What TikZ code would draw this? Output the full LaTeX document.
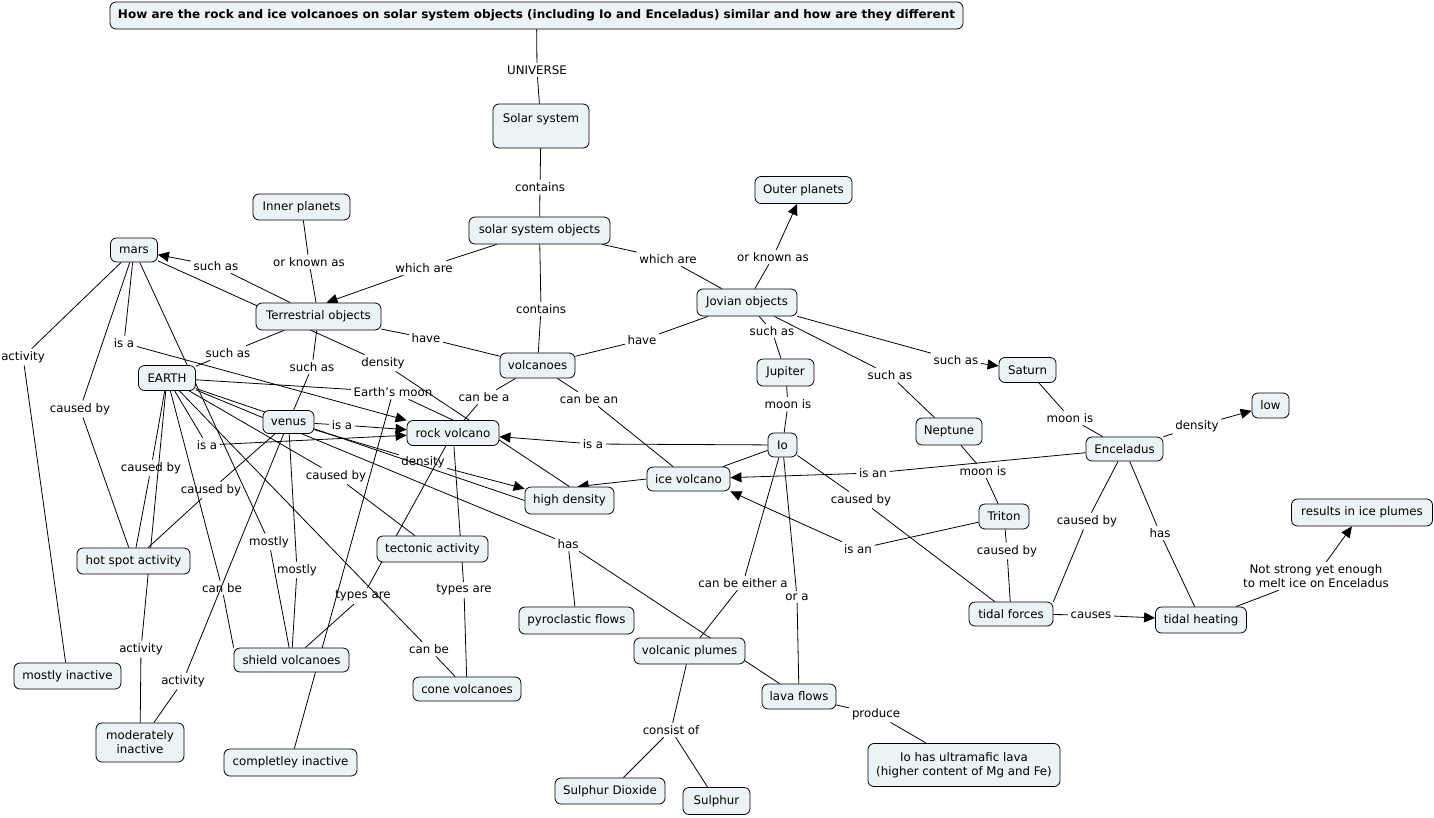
\documentclass[tikz,border=0pt]{standalone}
\usepackage{fontspec}
\usepackage{graphicx}
\setmainfont{DejaVu Sans}
\usetikzlibrary{arrows.meta,backgrounds}
\definecolor{cfill}{RGB}{236,243,246}
\newcommand\cfont{\fontsize{11.8pt}{14pt}\selectfont}
\begin{document}
\begin{tikzpicture}[x=1pt,y=-1pt,
  concept/.style={draw=black, line width=0.8pt, fill=cfill, rounded corners=6pt,
    inner sep=2pt, align=center, font=\cfont},
  sz/.style 2 args={minimum width=#1pt, minimum height=#2pt},
  lab/.style={inner sep=2.5pt, align=center, font=\cfont},
  lnk/.style={draw=black, line width=0.8pt},
  lnka/.style={lnk, -{Triangle[length=11pt,width=10pt]}}]
\useasboundingbox (0,0) rectangle (1434,817);
% ---------- concepts ----------
\node[concept, sz={853}{27}] (title) at (536.5,15.5) {\resizebox{837pt}{\height}{\bfseries How are the rock and ice volcanoes on solar system objects (including Io and Enceladus) similar and how are they different}};
\node[concept, minimum width=96pt, text height=16pt, text depth=24pt] (sol) at (541,126) {Solar system};
\node[concept, sz={141}{27}] (sso) at (539.5,230.5) {solar system objects};
\node[concept, sz={97}{27}] (outer) at (803.5,190) {Outer planets};
\node[concept, sz={97}{26}] (inner) at (301.5,207) {Inner planets};
\node[concept, sz={47}{24}] (mars) at (134,250) {mars};
\node[concept, sz={125}{27}] (terr) at (318.5,316.5) {Terrestrial objects};
\node[concept, sz={75}{25}] (volc) at (537.5,365.5) {volcanoes};
\node[concept, sz={100}{27}] (jov) at (747,302.5) {Jovian objects};
\node[concept, sz={57}{27}] (jup) at (785.5,372.5) {Jupiter};
\node[concept, sz={57}{25}] (sat) at (1027.5,370) {Saturn};
\node[concept, sz={37}{25}] (low) at (1270.5,405.5) {low};
\node[concept, sz={57}{25}] (earth) at (167,378) {EARTH};
\node[concept, sz={51}{23}] (venus) at (288.5,422) {venus};
\node[concept, sz={92}{25}] (rock) at (453,433) {rock volcano};
\node[concept, sz={29}{24}] (io) at (782.5,445) {Io};
\node[concept, sz={66}{27}] (nep) at (949,431.5) {Neptune};
\node[concept, sz={77}{24}] (encel) at (1124.5,449) {Enceladus};
\node[concept, sz={83}{24}] (icev) at (688.5,479) {ice volcano};
\node[concept, sz={89}{27}] (hd) at (569.5,500.5) {high density};
\node[concept, sz={50}{25}] (triton) at (1004,516.5) {Triton};
\node[concept, sz={141}{27}] (plumes) at (1362,512.5) {results in ice plumes};
\node[concept, sz={111}{26}] (tect) at (432.5,549) {tectonic activity};
\node[concept, sz={113}{26}] (hot) at (133.5,561) {hot spot activity};
\node[concept, sz={115}{27}] (pyro) at (576.5,620.5) {pyroclastic flows};
\node[concept, sz={84}{24}] (tforce) at (1011,614) {tidal forces};
\node[concept, sz={91}{26}] (theat) at (1201,620) {tidal heating};
\node[concept, sz={111}{26}] (vplumes) at (689.5,651) {volcanic plumes};
\node[concept, sz={74}{25}] (lava) at (799,696.5) {lava flows};
\node[concept, sz={110}{26}] (so2) at (610,791) {Sulphur Dioxide};
\node[concept, sz={67}{27}] (sulphur) at (716.5,801) {Sulphur};
\node[concept, sz={192}{43}] (ioultra) at (964,765) {Io has ultramafic lava\\(higher content of Mg and Fe)};
\node[concept, sz={107}{26}] (mostlyin) at (67.5,676) {mostly inactive};
\node[concept, sz={88}{39}] (modin) at (140,742.5) {moderately\\inactive};
\node[concept, sz={115}{24}] (shield) at (291.5,660) {shield volcanoes};
\node[concept, sz={108}{24}] (cone) at (467,689) {cone volcanoes};
\node[concept, sz={133}{27}] (complet) at (290.5,762.5) {completley inactive};
% ---------- linking phrases ----------
\node[lab] (lUniv) at (537,70) {UNIVERSE};
\node[lab] (lCont1) at (540,187) {contains};
\node[lab] (lWa1) at (424,268) {which are};
\node[lab] (lWa2) at (668,259) {which are};
\node[lab] (lOkaJ) at (773,257) {or known as};
\node[lab] (lCont2) at (541,309) {contains};
\node[lab] (lOkaT) at (309,262) {or known as};
\node[lab] (lSaMars) at (216,266) {such as};
\node[lab] (lSaEarth) at (228,353) {such as};
\node[lab] (lSaVenus) at (312,367) {such as};
\node[lab] (lHave1) at (426,338) {have};
\node[lab] (lHave2) at (642,340) {have};
\node[lab] (lSaJup) at (772,331) {such as};
\node[lab] (lSaNep) at (890,375) {such as};
\node[lab] (lSaSat) at (956,360) {such as};
\node[lab] (lMoonIo) at (788,404) {moon is};
\node[lab] (lMoonEnc) at (1070,418) {moon is};
\node[lab] (lMoonTri) at (983,471) {moon is};
\node[lab] (lDensLow) at (1197,426) {density};
\node[lab] (lIsanEnc) at (873,473) {is an};
\node[lab] (lIsanTri) at (858,549) {is an};
\node[lab] (lCbTri) at (1007,551) {caused by};
\node[lab] (lCbEnc) at (1087,521) {caused by};
\node[lab] (lHasEnc) at (1160,533) {has};
\node[lab] (lCauses) at (1091,615) {causes};
\node[lab] (lNot) at (1316,576) {Not strong yet enough\\to melt ice on Enceladus};
\node[lab] (lCbIo) at (861,500) {caused by};
\node[lab] (lIsaIo) at (593,444) {is a};
\node[lab] (lCbe) at (743,583) {can be either a};
\node[lab] (lOra) at (797,597) {or a};
\node[lab] (lHasE) at (568,544) {has};
\node[lab] (lCba) at (484,397) {can be a};
\node[lab] (lCban) at (589,399) {can be an};
\node[lab] (lIsaEarth) at (207,445) {is a};
\node[lab] (lIsaMars) at (124,343) {is a};
\node[lab] (lIsaVenus) at (342,425) {is a};
\node[lab] (lEmoon) at (393,392) {Earth's moon};
\node[lab] (lDensV) at (423,462) {density};
\node[lab] (lDensT) at (383,363) {density};
\node[lab] (lActMars) at (23,357) {activity};
\node[lab] (lCbMars) at (80,409) {caused by};
\node[lab] (lCbE1) at (151,468) {caused by};
\node[lab] (lCbV) at (211,490) {caused by};
\node[lab] (lCbE2) at (336,476) {caused by};
\node[lab] (lMostly1) at (269,542) {mostly};
\node[lab] (lMostly2) at (297,570) {mostly};
\node[lab] (lCanbe1) at (222,588) {can be};
\node[lab] (lTypes1) at (363,596) {types are};
\node[lab] (lTypes2) at (464,590) {types are};
\node[lab] (lAct1) at (141,649) {activity};
\node[lab] (lAct2) at (183,681) {activity};
\node[lab] (lCanbe2) at (429,649) {can be};
\node[lab] (lConsist) at (671,730) {consist of};
\node[lab] (lProduce) at (876,714) {produce};
% ---------- connectors ----------
\begin{pgfonlayer}{background}
\fill[white] (0,0) rectangle (1434,817);
\draw[lnk] (title) -- (lUniv); \draw[lnk] (lUniv) -- (sol);
\draw[lnk] (sol) -- (lCont1); \draw[lnk] (lCont1) -- (sso);
\draw[lnk] (sso) -- (lWa1); \draw[lnka] (lWa1) -- ([xshift=8pt]terr.north);
\draw[lnk] (sso) -- (lWa2); \draw[lnk] (lWa2) -- (jov);
\draw[lnk] (sso) -- (lCont2); \draw[lnk] (lCont2) -- (volc);
\draw[lnk] (jov) -- (lOkaJ); \draw[lnka] (lOkaJ) -- (outer);
\draw[lnk] (inner) -- (lOkaT); \draw[lnk] (lOkaT) -- (terr);
\draw[lnk] (terr) -- (lSaMars); \draw[lnka] (lSaMars) -- (mars);
\draw[lnk] (terr) -- (lSaEarth); \draw[lnk] (lSaEarth) -- (earth);
\draw[lnk] (terr) -- (lSaVenus); \draw[lnk] (lSaVenus) -- (venus);
\draw[lnk] (terr) -- (lHave1); \draw[lnk] (lHave1) -- (volc);
\draw[lnk] (jov) -- (lHave2); \draw[lnk] (lHave2) -- (volc);
\draw[lnk] (jov) -- (lSaJup); \draw[lnk] (lSaJup) -- (jup);
\draw[lnk] (jov) -- (lSaNep); \draw[lnk] (lSaNep) -- (nep);
\draw[lnk] (jov) -- (lSaSat); \draw[lnka] (lSaSat) -- (sat);
\draw[lnk] (jup) -- (lMoonIo); \draw[lnk] (lMoonIo) -- (io);
\draw[lnk] (sat) -- (lMoonEnc); \draw[lnk] (lMoonEnc) -- (encel);
\draw[lnk] (nep) -- (lMoonTri); \draw[lnk] (lMoonTri) -- (triton);
\draw[lnk] (encel) -- (lDensLow); \draw[lnka] (lDensLow) -- (low);
\draw[lnk] (encel) -- (lIsanEnc); \draw[lnka] (lIsanEnc) -- (icev);
\draw[lnk] (triton) -- (lIsanTri); \draw[lnka] (lIsanTri) -- (icev.south east);
\draw[lnk] (triton) -- (lCbTri); \draw[lnk] (lCbTri) -- (tforce);
\draw[lnk] (encel) -- (lCbEnc); \draw[lnk] (lCbEnc) -- (tforce.north east);
\draw[lnk] (encel) -- (lHasEnc); \draw[lnk] (lHasEnc) -- (theat);
\draw[lnk] (tforce) -- (lCauses); \draw[lnka] (lCauses) -- (theat);
\draw[lnk] (theat) -- (lNot); \draw[lnka] (lNot) -- (plumes);
\draw[lnk] (io) -- (lCbIo); \draw[lnk] (lCbIo) -- (tforce);
\draw[lnk] (io) -- (lIsaIo); \draw[lnka] (lIsaIo) -- (rock);
\draw[lnk] (io) -- (icev); \draw[lnka] (icev.west) -- (hd.60);
\draw[lnk] (io) -- (lCbe); \draw[lnk] (lCbe) -- (vplumes);
\draw[lnk] (io) -- (lOra); \draw[lnk] (lOra) -- (lava);
\draw[lnk] (vplumes) -- (lConsist); \draw[lnk] (lConsist) -- (so2); \draw[lnk] (lConsist) -- (sulphur);
\draw[lnk] (lava) -- (lProduce); \draw[lnk] (lProduce) -- (ioultra);
\draw[lnk] (volc) -- (lCba); \draw[lnk] (lCba) -- (rock);
\draw[lnk] (volc) -- (lCban); \draw[lnk] (lCban) -- (icev);
\draw[lnk] (earth) -- (lIsaEarth); \draw[lnka] (lIsaEarth) -- (rock);
\draw[lnk] (mars) -- (lIsaMars); \draw[lnka] (lIsaMars) -- (rock);
\draw[lnk] (venus) -- (lIsaVenus); \draw[lnka] (lIsaVenus) -- (rock);
\draw[lnk] (earth) -- (lEmoon); \draw[lnk] (lEmoon) -- (rock.north); \draw[lnk] (lEmoon) -- (complet);
\draw[lnk] (mars) -- (lDensT); \draw[lnk] (lDensT) -- (hd.north);
\draw[lnk] (venus) -- (lDensV); \draw[lnka] (lDensV) -- (hd);
\draw[lnk] (earth.-20) -- (hd.west);
\draw[lnk] (earth) -- (lHasE); \draw[lnk] (lHasE) -- (pyro); \draw[lnk] (lHasE) -- (lava);
\draw[lnk] (mars) -- (lActMars); \draw[lnk] (lActMars) -- (mostlyin);
\draw[lnk] (mars) -- (lCbMars); \draw[lnk] (lCbMars) -- (hot);
\draw[lnk] (earth) -- (lCbE1); \draw[lnk] (lCbE1) -- (hot);
\draw[lnk] (venus) -- (lCbV); \draw[lnk] (lCbV) -- (hot);
\draw[lnk] (earth) -- (lAct1); \draw[lnk] (lAct1) -- (modin);
\draw[lnk] (venus) -- (lAct2); \draw[lnk] (lAct2) -- (modin);
\draw[lnk] (mars) -- (lMostly1); \draw[lnk] (lMostly1) -- (shield);
\draw[lnk] (venus) -- (lMostly2); \draw[lnk] (lMostly2) -- (shield);
\draw[lnk] (earth) -- (lCanbe1); \draw[lnk] (lCanbe1) -- (shield.north west);
\draw[lnk] (earth) -- (lCanbe2); \draw[lnk] (lCanbe2) -- (cone);
\draw[lnk] (earth) -- (lCbE2); \draw[lnk] (lCbE2) -- (tect);
\draw[lnk] (rock) -- (lTypes1); \draw[lnk] (lTypes1) -- (shield);
\draw[lnk] (rock) -- (lTypes2); \draw[lnk] (lTypes2) -- (cone);
\end{pgfonlayer}
\end{tikzpicture}
\end{document}
